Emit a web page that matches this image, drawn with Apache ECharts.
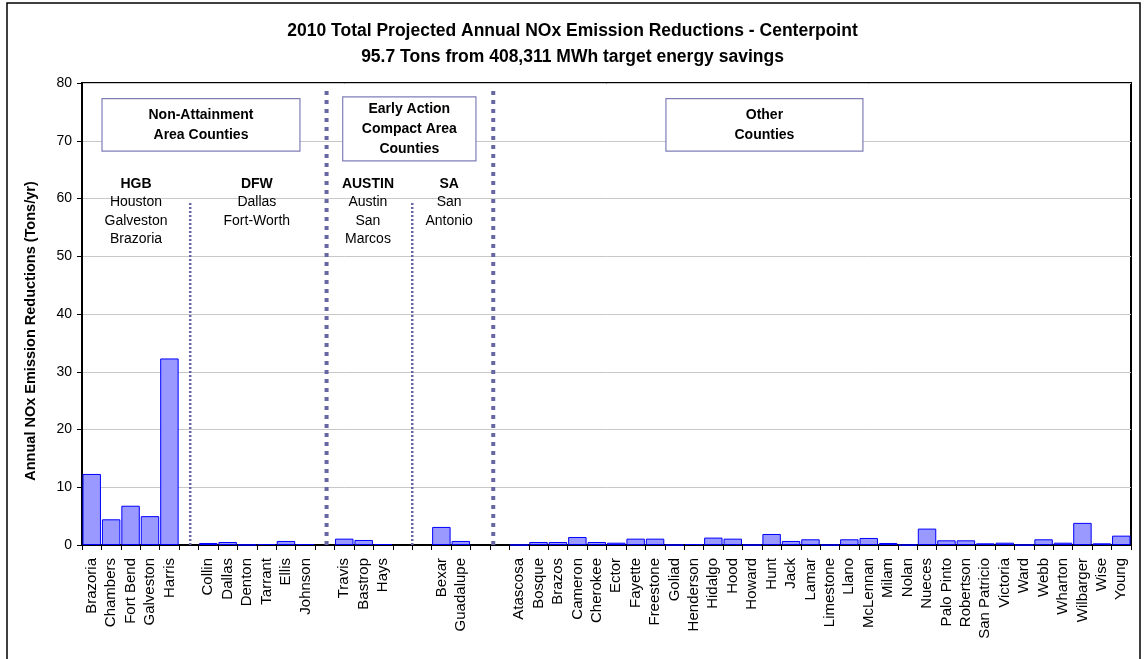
<!DOCTYPE html>
<html lang="en">
<head>
    <meta charset="UTF-8">
    <title>2010 NOx Emission Reductions - Centerpoint</title>
    <script src="https://cdn.jsdelivr.net/npm/echarts@6.0.0/dist/echarts.min.js"></script>
    <style>
        html, body { margin: 0; padding: 0; background: #fff; }
        #main { width: 1145px; height: 659px; }
    </style>
</head>
<body>
<div id="main"></div>
<script>
    // counties along the x axis, '' = empty spacer slot between groups
    var counties = ['Brazoria', 'Chambers', 'Fort Bend', 'Galveston', 'Harris', '',
        'Collin', 'Dallas', 'Denton', 'Tarrant', 'Ellis', 'Johnson', '',
        'Travis', 'Bastrop', 'Hays', '', '',
        'Bexar', 'Guadalupe', '', '',
        'Atascosa', 'Bosque', 'Brazos', 'Cameron', 'Cherokee', 'Ector', 'Fayette', 'Freestone',
        'Goliad', 'Henderson', 'Hidalgo', 'Hood', 'Howard', 'Hunt', 'Jack', 'Lamar', 'Limestone',
        'Llano', 'McLennan', 'Milam', 'Nolan', 'Nueces', 'Palo Pinto', 'Robertson', 'San Patricio',
        'Victoria', 'Ward', 'Webb', 'Wharton', 'Wilbarger', 'Wise', 'Young'];

    // annual NOx reductions (tons/yr)
    var reductions = [12.3, 4.45, 6.8, 5.0, 32.3, null,
        0.35, 0.52, 0.05, 0.17, 0.7, 0.17, null,
        1.1, 0.87, 0.17, null, null,
        3.13, 0.7, null, null,
        0.02, 0.52, 0.52, 1.39, 0.52, 0.4, 1.1, 1.1,
        0.02, 0.17, 1.28, 1.1, 0.02, 1.91, 0.7, 0.99, 0.02,
        0.99, 1.22, 0.35, 0.02, 2.84, 0.81, 0.81, 0.29,
        0.4, 0.02, 0.99, 0.4, 3.83, 0.29, 1.62];

    var yTicks = [0, 10, 20, 30, 40, 50, 60, 70, 80];

    // dotted separators, in category slots (x) and tons (top)
    var dividerX = [5.57, 12.59, 17.0, 21.17];
    var dividerTop = [59.2, 78.9, 59.2, 78.9];
    var dividerHeavy = [false, true, false, true];

    // boxed group headings
    var boxTexts = ['Non-Attainment\nArea Counties', 'Early Action\nCompact Area\nCounties', 'Other\nCounties'];
    var boxX0 = [1.03, 13.42, 30.06];
    var boxX1 = [11.22, 20.28, 40.2];
    var boxY0 = [68.2, 66.5, 68.2];
    var boxY1 = [77.3, 77.6, 77.3];

    // region labels
    var regionCodes = ['HGB', 'DFW', 'AUSTIN', 'SA'];
    var regionNames = ['Houston\nGalveston\nBrazoria', 'Dallas\nFort-Worth', 'Austin\nSan\nMarcos', 'San\nAntonio'];
    var regionX = [2.78, 9.0, 14.72, 18.9];

    var chart = echarts.init(document.getElementById('main'));
    var arial = "'Liberation Sans', Arial, sans-serif";

    var series = [{
        name: 'NOx',
        type: 'bar',
        data: reductions,
        barCategoryGap: '5%',
        itemStyle: {color: '#9999ff', borderColor: '#0000ff', borderWidth: 1},
        silent: true
    }];
    for (var i = 0; i < dividerX.length; i++) {
        series.push({
            type: 'line',
            xAxisIndex: 1,
            data: [[dividerX[i], 0], [dividerX[i], dividerTop[i]]],
            symbol: 'none',
            silent: true,
            z: 1,
            lineStyle: dividerHeavy[i]
                ? {color: '#6666a3', width: 4, type: [4, 5]}
                : {color: '#6666a3', width: 2.5, type: [2, 2]}
        });
    }

    var option = {
        animation: false,
        backgroundColor: '#fff',
        title: {
            text: '2010 Total Projected Annual NOx Emission Reductions - Centerpoint\n95.7 Tons from 408,311 MWh target energy savings',
            left: 'center',
            top: 13,
            textStyle: {fontFamily: arial, fontWeight: 'bold', fontSize: 17.5, lineHeight: 26, color: '#000'}
        },
        grid: {
            left: 82, right: 14, top: 83, bottom: 114,
            show: true, borderColor: '#000', borderWidth: 2
        },
        xAxis: [{
            type: 'category',
            data: counties,
            axisLine: {lineStyle: {color: '#000', width: 2}},
            axisTick: {show: true, length: 5, interval: 0, lineStyle: {color: '#000'}},
            axisLabel: {interval: 0, rotate: 90, margin: 13, color: '#000', fontFamily: arial, fontSize: 15}
        }, {
            type: 'value',
            min: 0,
            max: counties.length,
            show: false
        }],
        yAxis: {
            type: 'value',
            min: yTicks[0],
            max: yTicks[yTicks.length - 1],
            interval: 10,
            axisLine: {show: true, lineStyle: {color: '#000', width: 2}},
            axisTick: {show: true, length: 5, lineStyle: {color: '#000'}},
            axisLabel: {color: '#000', fontFamily: arial, fontSize: 14, margin: 10},
            splitLine: {lineStyle: {color: '#c8c8c8', width: 1}}
        },
        series: series
    };
    chart.setOption(option);

    // annotations placed through the hidden value axis
    function px(x, y) {
        return chart.convertToPixel({seriesIndex: 1}, [x, y]);
    }
    var graphics = [{
        type: 'rect',
        shape: {x: 7, y: 3, width: 1133, height: 700},
        style: {fill: null, stroke: '#000', lineWidth: 1.5},
        silent: true
    }, {
        type: 'text',
        x: 31, y: 331,
        rotation: Math.PI / 2,
        style: {text: 'Annual NOx Emission Reductions (Tons/yr)', align: 'center', verticalAlign: 'middle',
            font: 'bold 14.5px ' + arial, fill: '#000'}
    }];
    for (var b = 0; b < boxTexts.length; b++) {
        var p0 = px(boxX0[b], boxY1[b]);
        var p1 = px(boxX1[b], boxY0[b]);
        graphics.push({
            type: 'rect',
            shape: {x: p0[0], y: p0[1], width: p1[0] - p0[0], height: p1[1] - p0[1]},
            style: {fill: '#fff', stroke: '#7f7fb8', lineWidth: 1.2},
            z: 10
        });
        graphics.push({
            type: 'text',
            x: (p0[0] + p1[0]) / 2,
            y: (p0[1] + p1[1]) / 2,
            style: {text: boxTexts[b], align: 'center', verticalAlign: 'middle',
                font: 'bold 14px ' + arial, lineHeight: 20, fill: '#000'},
            z: 11
        });
    }
    for (var r = 0; r < regionCodes.length; r++) {
        var c = px(regionX[r], 62.5);
        var n = px(regionX[r], 60.9);
        graphics.push({
            type: 'text', x: c[0], y: c[1],
            style: {text: regionCodes[r], align: 'center', verticalAlign: 'middle',
                font: 'bold 14px ' + arial, fill: '#000'},
            z: 11
        });
        graphics.push({
            type: 'text', x: n[0], y: n[1],
            style: {text: regionNames[r], align: 'center', verticalAlign: 'top',
                font: '14px ' + arial, lineHeight: 18.5, fill: '#000'},
            z: 11
        });
    }
    chart.setOption({graphic: graphics});
</script>
</body>
</html>
